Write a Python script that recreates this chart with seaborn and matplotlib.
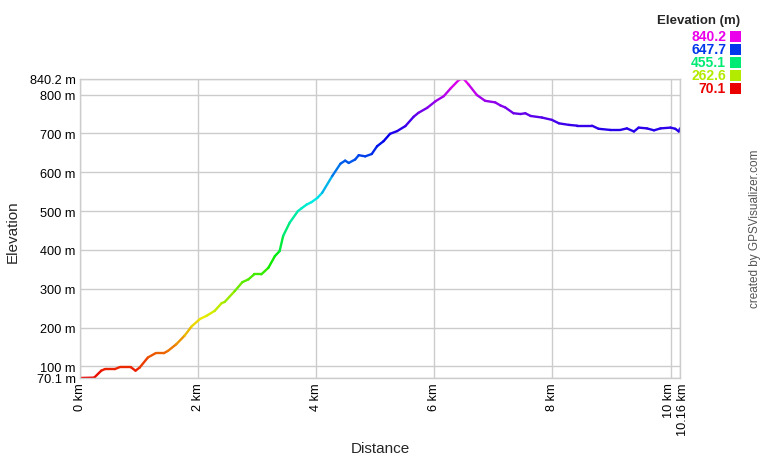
import colorsys

import matplotlib
matplotlib.use("Agg")
import matplotlib.pyplot as plt
import matplotlib.transforms as mtransforms
from matplotlib.colors import ListedColormap
from matplotlib.patches import Rectangle
import numpy as np
import pandas as pd
import seaborn as sns

# --- data ---
dist_km = [0.00, 0.24, 0.36, 0.42, 0.59, 0.67, 0.86, 0.94, 1.01, 1.15,
           1.28, 1.42, 1.49, 1.63, 1.77, 1.89, 2.03, 2.14, 2.28, 2.40,
           2.45, 2.62, 2.75, 2.85, 2.95, 3.07, 3.19, 3.30, 3.38, 3.44,
           3.55, 3.69, 3.75, 3.84, 3.92, 4.02, 4.10, 4.27, 4.41, 4.49,
           4.55, 4.66, 4.72, 4.83, 4.94, 5.03, 5.14, 5.25, 5.37, 5.51,
           5.65, 5.73, 5.88, 6.02, 6.16, 6.27, 6.41, 6.45, 6.50, 6.58,
           6.72, 6.86, 7.03, 7.12, 7.20, 7.34, 7.46, 7.54, 7.63, 7.82,
           7.99, 8.11, 8.28, 8.42, 8.67, 8.78, 8.98, 9.15, 9.26, 9.38,
           9.46, 9.60, 9.72, 9.83, 10.00, 10.08, 10.14, 10.16]
elev_m = [70.1, 71, 89, 93, 93, 98, 98, 89, 97, 123,
          134, 134, 140, 157, 179, 203, 222, 230, 243, 263,
          266, 294, 317, 324, 337, 337, 354, 384, 397, 436,
          470, 500, 507, 517, 523, 534, 547, 590, 622, 630,
          624, 633, 644, 641, 647, 667, 680, 699, 706, 719,
          743, 753, 766, 783, 796, 815, 837, 840.2, 840, 826,
          799, 784, 780, 772, 767, 752, 750, 752, 745, 741,
          735, 726, 722, 720, 720, 712, 709, 709, 713, 705,
          715, 713, 708, 713, 715, 712, 705, 713]

x_ticks = [0, 2, 4, 6, 8, 10, 10.16]
x_tick_labels = ["0 km", "2 km", "4 km", "6 km", "8 km", "10 km", "10.16 km"]
y_ticks = [70.1, 100, 200, 300, 400, 500, 600, 700, 800, 840.2]
y_tick_labels = ["70.1 m", "100 m", "200 m", "300 m", "400 m", "500 m",
                 "600 m", "700 m", "800 m", "840.2 m"]
legend_values = [840.2, 647.7, 455.1, 262.6, 70.1]

E_MIN, E_MAX = 70.1, 840.2

# red -> yellow -> green -> blue -> magenta, like the GPSVisualizer ramp
hue_cmap = ListedColormap([colorsys.hsv_to_rgb(300 / 360 * t, 1.0, 0.92)
                           for t in np.linspace(0, 1, 256)])

# --- segments: one two-point group per step so each can carry its own colour ---
rows = []
for i in range(len(dist_km) - 1):
    c = (elev_m[i] + elev_m[i + 1]) / 2
    rows.append({"seg": i, "dist": dist_km[i], "elev": elev_m[i], "c": c})
    rows.append({"seg": i, "dist": dist_km[i + 1], "elev": elev_m[i + 1], "c": c})
df = pd.DataFrame(rows)

sns.set_style("white")
plt.rcParams["font.family"] = ["Liberation Sans", "DejaVu Sans"]

fig = plt.figure(figsize=(7.6, 4.6), dpi=100)
ax = fig.add_axes([80 / 760, 81 / 460, 600 / 760, 299 / 460])

sns.lineplot(data=df, x="dist", y="elev", hue="c", units="seg", estimator=None,
             palette=hue_cmap, hue_norm=(E_MIN, E_MAX), legend=False, sort=False,
             lw=1.7, solid_capstyle="round", ax=ax)

ax.set_xlim(0, 10.16)
ax.set_ylim(E_MIN, E_MAX)
ax.set_xticks(x_ticks)
ax.set_xticklabels(x_tick_labels, rotation=90, va="top")
ax.set_yticks(y_ticks)
ax.set_yticklabels(y_tick_labels)
ax.tick_params(length=0, labelsize=9.2, pad=3, colors="black")
ax.grid(True, color="#cccccc", lw=1.0)
for sp in ax.spines.values():
    sp.set_color("#cccccc")
    sp.set_linewidth(1.0)
ax.set_xlabel("")
ax.set_ylabel("")

# nudge the two crowded end labels apart, as in the original
xlabs = ax.get_xticklabels()
xlabs[-2].set_transform(xlabs[-2].get_transform() +
                        mtransforms.ScaledTranslation(-2 / 100, 0, fig.dpi_scale_trans))
xlabs[-1].set_transform(xlabs[-1].get_transform() +
                        mtransforms.ScaledTranslation(3 / 100, 0, fig.dpi_scale_trans))

fig.text(13 / 760, 1 - 232 / 460, "Elevation", rotation=90, ha="center",
         va="center", fontsize=11)
fig.text(380 / 760, 1 - 449 / 460, "Distance", ha="center", va="center",
         fontsize=11)

# legend box on the right
fig.text(740 / 760, 1 - 21 / 460, "Elevation (m)", ha="right", va="center",
         fontsize=9.5, fontweight="bold")
for k, v in enumerate(legend_values):
    yc = 37 + k * 13
    col = hue_cmap((v - E_MIN) / (E_MAX - E_MIN))
    fig.text(726 / 760, 1 - yc / 460, f"{v:.1f}", ha="right", va="center",
             fontsize=10, fontweight="bold", color=col)
    fig.patches.append(Rectangle((730 / 760, 1 - (yc + 5.5) / 460), 11 / 760,
                                 11 / 460, transform=fig.transFigure,
                                 facecolor=col, edgecolor="none"))

fig.text(755 / 760, 1 - 229 / 460, "created by GPSVisualizer.com", rotation=90,
         ha="center", va="center", fontsize=8.5, color="#555555")

fig.savefig("out.png", dpi=100)
